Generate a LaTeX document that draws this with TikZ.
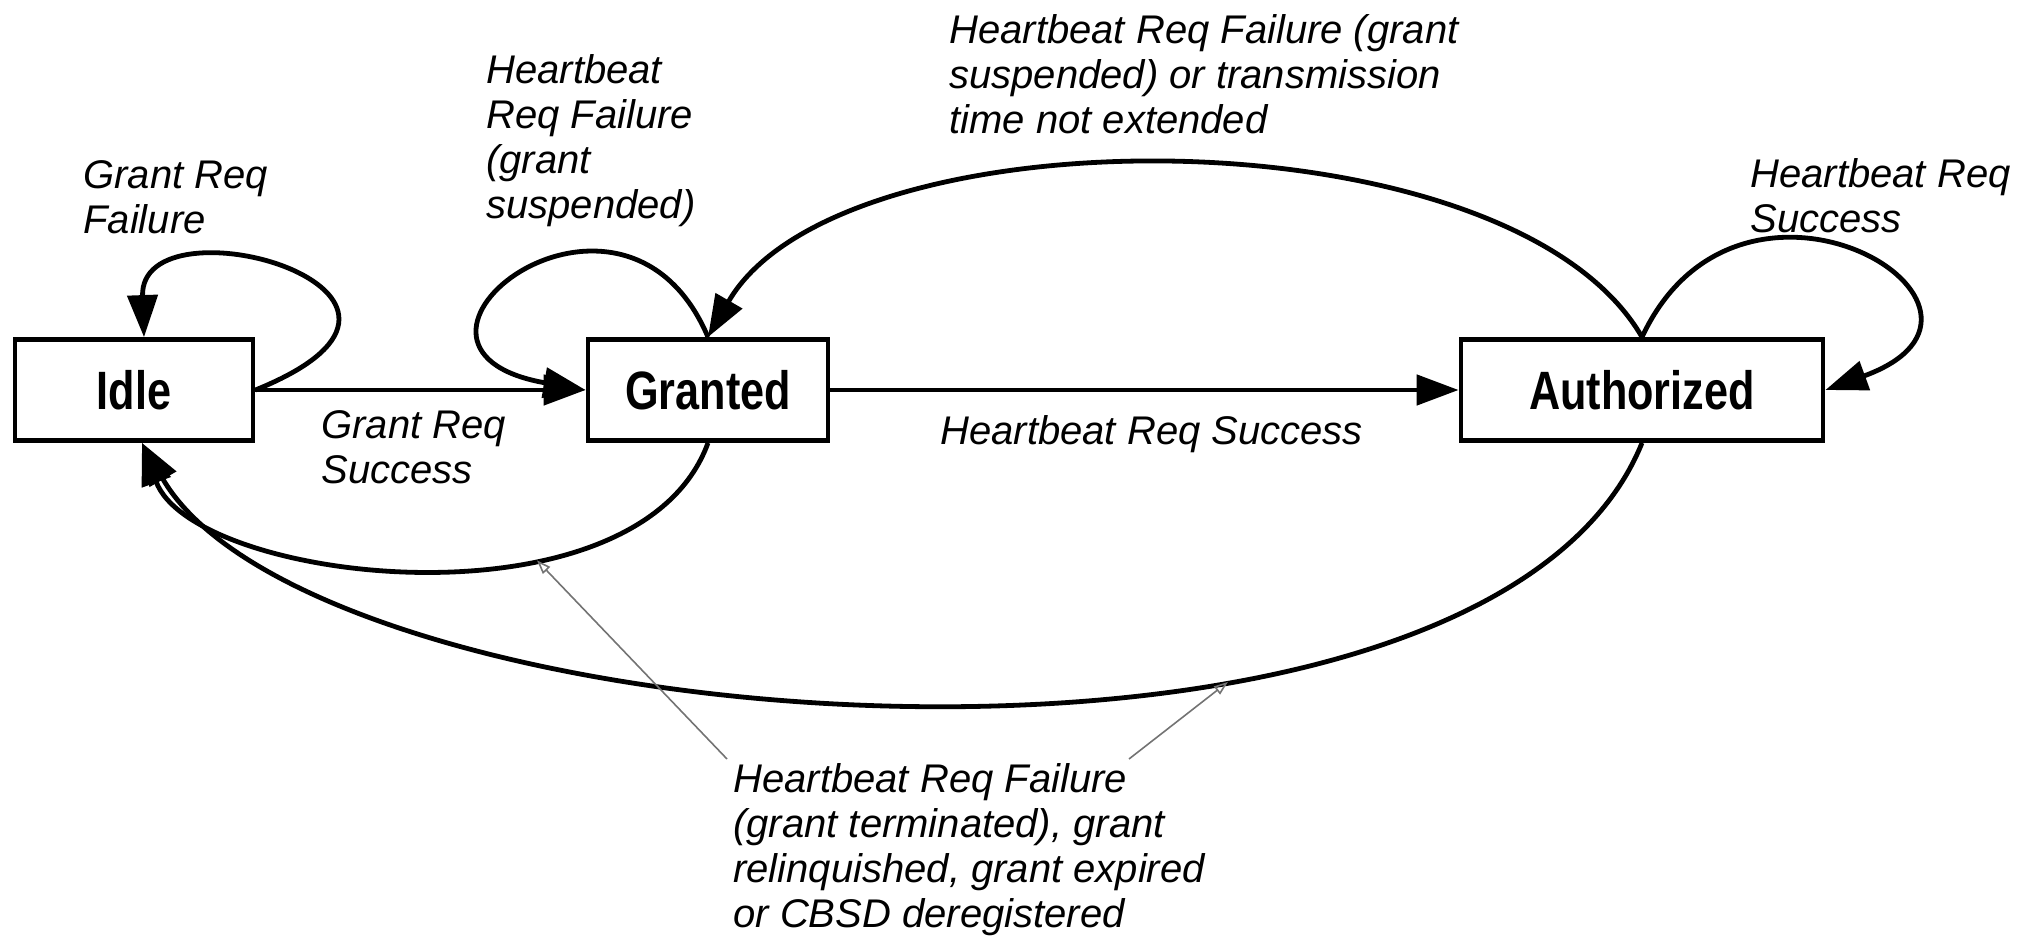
\documentclass[tikz,border=0pt]{standalone}
\usepackage{fontspec}
\setmainfont{Liberation Sans}
\newfontfamily\statefont[FakeStretch=0.8]{Liberation Sans}
\usetikzlibrary{arrows.meta}

\tikzset{
  state/.style={draw, line width=2.4pt, minimum height=50.5pt, inner sep=0pt,
    font=\statefont\bfseries\fontsize{27}{30}\selectfont},
  trans/.style={line width=2.4pt, -{Triangle[length=21pt,width=15pt]}},
  lbl/.style={anchor=north west, align=left, inner sep=0pt,
    font=\itshape\fontsize{20}{22.5}\selectfont},
  pointer/.style={draw=black!55, line width=0.8pt, -{Triangle[open,length=7pt,width=5pt]}},
}

\begin{document}
\begin{tikzpicture}[x=0.5pt,y=0.5pt]
        \useasboundingbox (0,0) rectangle (2031,-936);

        % states
        \node[state, minimum width=119pt] (idle) at (134,-390) {Idle};
        \node[state, minimum width=120pt] (granted) at (708,-390) {Granted};
        \node[state, minimum width=181pt] (auth) at (1642,-390) {Authorized};

        % forward transitions
        \draw[trans] (idle) -- (granted);
        \draw[trans] (granted) -- (auth);

        % self loops
        \draw[trans] (idle.east) to[out=22, in=92, out distance=130pt, in distance=72pt] ([xshift=5pt]idle.north);
        \draw[trans] (granted.north) to[out=113, in=170, out distance=110pt, in distance=120pt] (granted.west);
        \draw[trans] (auth.north) to[out=65, in=20, distance=118pt] (auth.east);

        % back to granted
        \draw[trans] (auth.north) to[out=120, in=60, distance=132pt] (granted.north);

        % back to idle
        \draw[trans] (granted.south) to[out=250, in=290, out distance=102pt, in distance=75pt]
          coordinate[pos=0.34] (hitA) ([xshift=4pt]idle.south);
        \draw[trans] (auth.south) to[out=248, in=300, out distance=210pt, in distance=174pt]
          coordinate[pos=0.33] (hitB) ([xshift=4pt]idle.south);

        % labels
        \node[lbl] (lGrantFail) at (83,-160) {Grant Req\\Failure};
        \node[lbl] (lGrantOk) at (321,-410) {Grant Req\\Success};
        \node[lbl] (lSuspend) at (486,-54) {Heartbeat\\Req Failure\\(grant\\suspended)};
        \node[lbl] (lSuspendAuth) at (949,-14) {Heartbeat Req Failure (grant\\suspended) or transmission\\time not extended};
        \node[lbl] (lBeatOk) at (940,-415) {Heartbeat Req Success};
        \node[lbl] (lBeatLoop) at (1750,-158) {Heartbeat Req\\Success};
        \node[lbl] (note) at (733,-763) {Heartbeat Req Failure\\(grant terminated), grant\\relinquished, grant expired\\or CBSD deregistered};

        % pointers from the note
        \draw[pointer] ([xshift=-3pt,yshift=2pt]note.north west) -- (hitA);
        \draw[pointer] ([xshift=198pt,yshift=2pt]note.north west) -- (hitB);
\end{tikzpicture}
\end{document}
